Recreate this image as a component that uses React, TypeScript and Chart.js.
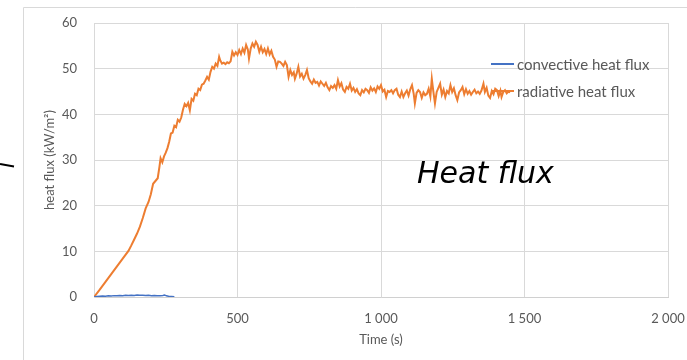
import React, { useEffect, useRef } from "react";
import { Chart, registerables } from "chart.js";

Chart.register(...registerables);

const radTime = [
  0, 20, 40, 60, 80, 100, 120, 130, 140, 150, 160, 170, 180, 190,
  198, 206, 214, 222, 228, 232, 238, 244, 250, 256, 262, 268, 274, 280, 286, 292, 298,
  304, 310, 316, 322, 328, 334, 340, 346, 352, 358, 364, 370, 376, 382, 388, 394, 400,
  406, 412, 418, 424, 430, 436, 440, 446, 452, 458, 464, 470, 476, 482, 488, 494, 500,
  506, 512, 518, 524, 530, 536, 540, 546, 552, 558, 564, 570, 576, 582, 588, 594, 600,
  606, 612, 618, 624, 630, 636, 642, 648, 654, 660, 666, 672, 678, 684, 690, 696, 700,
  706, 712, 718, 724, 730, 736, 742, 748, 754, 760, 766, 772, 778, 784, 790, 796, 802,
  808, 814, 820, 826, 832, 838, 844, 850, 856, 862, 868, 874, 880, 886, 892, 898, 904,
  910, 916, 922, 928, 934, 940, 946, 952, 958, 964, 970, 976, 982, 988, 994, 1000, 1006,
  1012, 1018, 1024, 1030, 1036, 1042, 1048, 1054, 1060, 1066, 1072, 1078, 1084, 1090, 1096,
  1102, 1108, 1114, 1118, 1124, 1130, 1136, 1142, 1148, 1154, 1160, 1166, 1172, 1177, 1182,
  1188, 1194, 1200, 1206, 1212, 1218, 1224, 1230, 1236, 1242, 1248, 1254, 1260, 1266, 1272,
  1278, 1284, 1290, 1296, 1302, 1308, 1314, 1320, 1326, 1332, 1338, 1344, 1350, 1357, 1362,
  1368, 1374, 1380, 1386, 1392, 1398, 1404, 1410, 1416, 1420, 1426, 1432, 1438, 1444, 1450,
];

const radFlux = [
  0, 1.6, 3.3, 5.0, 6.7, 8.4, 10.1, 11.3, 12.6, 13.9, 15.4, 17.3, 19.4, 20.8,
  22.5, 24.8, 25.4, 26.0, 28.5, 30.4, 29.5, 30.8, 31.6, 32.6, 34.0, 35.8, 36.0, 37.5, 37.2, 38.8, 38.4,
  39.3, 41.0, 42.3, 41.8, 42.5, 40.9, 43.4, 43.0, 44.5, 44.2, 45.6, 45.3, 46.5, 46.7, 47.4, 48.2, 47.6,
  49.3, 50.4, 50.0, 51.1, 50.6, 52.6, 51.8, 51.1, 51.3, 51.0, 51.4, 51.2, 51.6, 53.7, 52.9, 53.6, 53.0,
  54.1, 53.2, 54.4, 53.5, 55.2, 54.2, 52.2, 54.4, 55.5, 54.8, 55.9, 55.2, 53.7, 54.8, 53.6, 54.3, 53.2,
  54.4, 53.1, 53.9, 52.6, 52.0, 50.4, 51.6, 51.5, 51.1, 50.6, 51.5, 50.8, 48.2, 49.7, 48.6, 49.2, 47.8,
  48.9, 50.4, 48.3, 48.9, 47.8, 48.6, 49.7, 47.9, 47.2, 46.7, 47.6, 46.9, 47.1, 46.3, 47.2, 46.7, 46.2,
  46.9, 45.9, 45.3, 46.2, 45.8, 46.4, 45.6, 47.5, 46.1, 46.8, 45.4, 44.9, 46.0, 45.6, 46.7, 45.2, 45.8,
  44.9, 45.5, 44.6, 44.2, 45.3, 44.8, 45.6, 45.3, 44.7, 45.9, 45.2, 45.7, 44.9, 46.1, 45.6, 46.4, 45.0,
  45.4, 43.8, 45.1, 44.9, 45.3, 44.6, 45.3, 45.6, 44.3, 43.8, 45.0, 43.8, 44.6, 45.2, 44.1,
  45.5, 46.4, 44.5, 42.4, 44.7, 45.3, 44.9, 43.6, 44.8, 44.2, 44.5, 45.6, 43.9, 47.8, 45.2,
  42.4, 44.9, 45.8, 46.7, 44.3, 45.4, 43.8, 45.1, 44.6, 46.4, 44.9, 45.7, 44.2, 43.1, 44.8,
  45.3, 46.0, 44.4, 45.5, 44.5, 45.1, 44.3, 44.9, 45.4, 44.6, 45.0, 44.5, 45.2, 46.7, 44.9,
  45.8, 44.1, 43.6, 45.1, 44.4, 45.6, 45.3, 44.0, 45.2, 43.8, 44.9, 45.3, 44.6, 45.0, 44.8,
];

const convTime = [
  0, 10, 20, 30, 40, 50, 60, 70, 80, 90, 100, 110, 120, 130, 140, 150,
  160, 170, 180, 190, 200, 210, 220, 230, 240, 246, 252, 260, 270, 280,
];
const convFlux = [
  0, 0.1, 0.15, 0.2, 0.18, 0.25, 0.22, 0.3, 0.27, 0.35, 0.3, 0.38, 0.33, 0.4, 0.35, 0.42,
  0.37, 0.4, 0.34, 0.38, 0.3, 0.33, 0.28, 0.3, 0.35, 0.45, 0.25, 0.15, 0.1, 0.05,
];

const xTicks = [0, 500, 1000, 1500, 2000];
const yTicks = [0, 10, 20, 30, 40, 50, 60];
const seriesNames = ["convective heat flux", "radiative heat flux"];
const seriesColors = ["#4472C4", "#ED7D31"];

const FONT = "Lato";
const GREY = "#595959";

function fmtThousands(v: number): string {
  const s = String(Math.round(v));
  return s.length > 3 ? s.slice(0, s.length - 3) + " " + s.slice(s.length - 3) : s;
}

const decorPlugin = {
  id: "decor",
  beforeDraw(chart: any) {
    const ctx = chart.ctx;
    ctx.save();
    ctx.strokeStyle = "#d9d9d9";
    ctx.lineWidth = 1;
    ctx.beginPath();
    ctx.moveTo(23.5, 400);
    ctx.lineTo(23.5, 7.5);
    ctx.lineTo(700, 7.5);
    ctx.stroke();
    ctx.restore();
  },
  afterDraw(chart: any) {
    const ctx = chart.ctx;
    ctx.save();
    const legY = [64, 91];
    seriesNames.forEach((name, i) => {
      ctx.strokeStyle = seriesColors[i];
      ctx.lineWidth = 2;
      ctx.beginPath();
      ctx.moveTo(491, legY[i]);
      ctx.lineTo(514, legY[i]);
      ctx.stroke();
      ctx.fillStyle = GREY;
      ctx.font = `15px ${FONT}`;
      ctx.textBaseline = "middle";
      ctx.textAlign = "left";
      ctx.fillText(name, 517, legY[i] + 1);
    });
    ctx.fillStyle = "#000";
    ctx.font = `italic 30px "DejaVu Sans"`;
    ctx.textBaseline = "alphabetic";
    ctx.fillText("Heat flux", 417, 183);
    ctx.strokeStyle = "#000";
    ctx.lineWidth = 2;
    ctx.beginPath();
    ctx.moveTo(0, 164);
    ctx.lineTo(14, 166.5);
    ctx.stroke();
    ctx.restore();
  },
};

export default function App() {
  const ref = useRef<HTMLCanvasElement | null>(null);
  useEffect(() => {
    if (!ref.current) return;
    const chart = new Chart(ref.current, {
      type: "line",
      data: {
        datasets: [
          {
            label: seriesNames[0],
            data: convTime.map((t, i) => ({ x: t, y: convFlux[i] })),
            borderColor: seriesColors[0],
            borderWidth: 1.5,
            pointRadius: 0,
            tension: 0,
          },
          {
            label: seriesNames[1],
            data: radTime.map((t, i) => ({ x: t, y: radFlux[i] })),
            borderColor: seriesColors[1],
            borderWidth: 2,
            pointRadius: 0,
            tension: 0,
          },
        ],
      },
      options: {
        animation: false,
        responsive: false,
        maintainAspectRatio: false,
        layout: { padding: { left: 0, right: 19, top: 23, bottom: 0 } },
        plugins: { legend: { display: false }, tooltip: { enabled: false } },
        scales: {
          x: {
            type: "linear",
            min: 0,
            max: 2000,
            afterBuildTicks: (s: any) => {
              s.ticks = xTicks.map((v) => ({ value: v }));
            },
            ticks: {
              callback: (v: any) => fmtThousands(Number(v)),
              color: GREY,
              font: { family: FONT, size: 13 },
              padding: 14,
              maxRotation: 0,
            },
            grid: { color: "#d9d9d9", drawTicks: false },
            border: { color: "#d0d0d0" },
            title: {
              display: true,
              text: "Time (s)",
              color: GREY,
              font: { family: FONT, size: 13 },
              padding: { top: 0, bottom: 12 },
            },
            afterFit: (s: any) => {
              s.height = 63;
              s.paddingLeft = 0;
              s.paddingRight = 0;
            },
          },
          y: {
            min: 0,
            max: 60,
            afterBuildTicks: (s: any) => {
              s.ticks = yTicks.map((v) => ({ value: v }));
            },
            ticks: {
              color: GREY,
              font: { family: FONT, size: 13 },
              padding: 17,
            },
            grid: { color: "#d9d9d9", drawTicks: false },
            border: { color: "#d9d9d9" },
            title: {
              display: true,
              text: "heat flux (kW/m²)",
              color: GREY,
              font: { family: FONT, size: 13 },
              padding: { top: 42, bottom: 0 },
            },
            afterFit: (s: any) => {
              s.width = 94;
              s.paddingTop = 0;
              s.paddingBottom = 0;
            },
          },
        },
      },
      plugins: [decorPlugin],
    });
    return () => chart.destroy();
  }, []);
  return (
    <div style={{ position: "absolute", left: 0, top: 0, width: 687, height: 360, background: "#fff" }}>
      <canvas ref={ref} width={687} height={360} style={{ width: 687, height: 360, display: "block" }} />
    </div>
  );
}
